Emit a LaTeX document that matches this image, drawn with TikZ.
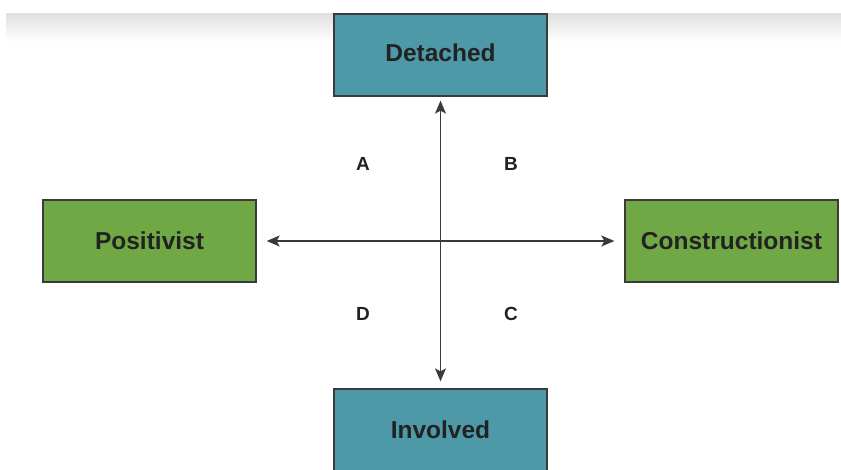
\documentclass[tikz,border=0pt]{standalone}
\usepackage{fontspec}
\setmainfont{Liberation Sans}
\usetikzlibrary{arrows.meta}
\definecolor{teal1}{HTML}{4E99A8}
\definecolor{green1}{HTML}{70A845}
\definecolor{txt}{HTML}{222222}
\definecolor{edge}{HTML}{3A3A3A}
\tikzset{
  box/.style={draw=edge, line width=1.3pt, minimum width=213pt, minimum height=82pt, inner sep=0pt,
    text=txt, font=\fontsize{24.5}{28}\selectfont\bfseries},
  axis/.style={draw=edge, line width=1.5pt, {Stealth[length=13pt,width=11pt,inset=3pt]}-{Stealth[length=13pt,width=11pt,inset=3pt]}},
  quad/.style={text=txt, font=\fontsize{19}{22}\selectfont\bfseries, inner sep=0pt}
}
\begin{document}
\begin{tikzpicture}[x=1pt,y=1pt]
\useasboundingbox (0,0) rectangle (841,469);
\shade[top color=black!12, bottom color=white] (6,455) rectangle (841,427);
\node[box, fill=teal1] (det) at (440.5,414) {};
\node[text=txt, font=\fontsize{24.5}{28}\selectfont\bfseries] (dett) at (440.5,416) {Detached};
\node[box, fill=teal1] (inv) at (440.5,39) {};
\node[text=txt, font=\fontsize{24.5}{28}\selectfont\bfseries] (invt) at (440.5,39) {Involved};
\node[box, fill=green1] (pos) at (149.5,228) {Positivist};
\node[box, fill=green1] (con) at (731.5,228) {Constructionist};
\draw[axis, shorten <=4pt, shorten >=7pt] (det.south) -- (inv.north);
\draw[axis, shorten <=10pt, shorten >=10pt] (pos.east) -- (con.west);
\node[quad] (A) at (363,305) {A};
\node[quad] (B) at (511,305) {B};
\node[quad] (D) at (363,155) {D};
\node[quad] (C) at (511,155) {C};
\end{tikzpicture}
\end{document}
